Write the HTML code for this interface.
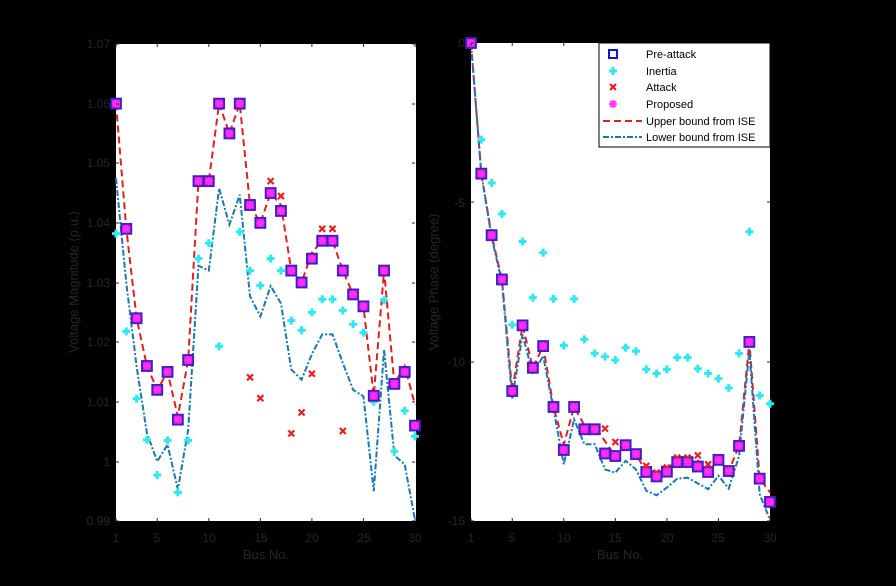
<!DOCTYPE html>
<html><head><meta charset="utf-8"><style>
html,body{margin:0;padding:0;background:#000;}
svg{display:block;font-family:"Liberation Sans",sans-serif;}
</style></head><body>
<svg id="s" width="896" height="586" viewBox="0 0 896 586" xmlns="http://www.w3.org/2000/svg">
<rect width="896" height="586" fill="#000"/>
<rect x="116" y="44" width="300" height="477" fill="#fff"/>
<rect x="471" y="43" width="299" height="478" fill="#fff"/>
<g id="g"></g>
<g fill="#262626" font-size="12">
<text x="110" y="48" text-anchor="end">1.07</text>
<text x="110" y="108" text-anchor="end">1.06</text>
<text x="110" y="167" text-anchor="end">1.05</text>
<text x="110" y="227" text-anchor="end">1.04</text>
<text x="110" y="287" text-anchor="end">1.03</text>
<text x="110" y="346" text-anchor="end">1.02</text>
<text x="110" y="406" text-anchor="end">1.01</text>
<text x="110" y="466" text-anchor="end">1</text>
<text x="110" y="525" text-anchor="end">0.99</text>
<text x="116" y="542" text-anchor="middle">1</text>
<text x="157" y="542" text-anchor="middle">5</text>
<text x="209" y="542" text-anchor="middle">10</text>
<text x="261" y="542" text-anchor="middle">15</text>
<text x="312" y="542" text-anchor="middle">20</text>
<text x="364" y="542" text-anchor="middle">25</text>
<text x="415" y="542" text-anchor="middle">30</text>
<text x="266" y="559" text-anchor="middle" font-size="13">Bus No.</text>
<text transform="translate(78,282) rotate(-90)" text-anchor="middle" font-size="13">Voltage  Magnitude (p.u.)</text>
<text x="465" y="47" text-anchor="end">0</text>
<text x="465" y="207" text-anchor="end">-5</text>
<text x="465" y="366" text-anchor="end">-10</text>
<text x="465" y="525" text-anchor="end">-15</text>
<text x="471" y="542" text-anchor="middle">1</text>
<text x="512" y="542" text-anchor="middle">5</text>
<text x="564" y="542" text-anchor="middle">10</text>
<text x="615" y="542" text-anchor="middle">15</text>
<text x="667" y="542" text-anchor="middle">20</text>
<text x="718" y="542" text-anchor="middle">25</text>
<text x="770" y="542" text-anchor="middle">30</text>
<text x="620" y="559" text-anchor="middle" font-size="13">Bus No.</text>
<text transform="translate(438,282) rotate(-90)" text-anchor="middle" font-size="13">Voltage  Phase  (degree)</text>
</g>
<rect x="599" y="43" width="171" height="104" fill="#fff" stroke="#000" stroke-width="1"/>
<g font-size="11" fill="#000">
<text x="646" y="58">Pre-attack</text>
<text x="646" y="75">Inertia</text>
<text x="646" y="91">Attack</text>
<text x="646" y="108">Proposed</text>
<text x="646" y="125">Upper bound from ISE</text>
<text x="646" y="141">Lower bound from ISE</text>
</g>
<g id="leg"></g>
</svg>
<script>
var NS="http://www.w3.org/2000/svg",g=document.getElementById('g'),L=document.getElementById('leg');
function el(p,t,a){var e=document.createElementNS(NS,t);for(var k in a)e.setAttribute(k,a[k]);p.appendChild(e);return e;}
function sq(p,x,y){el(p,'rect',{x:x-5,y:y-5,width:10,height:10,fill:'#d818e8',stroke:'#3a20c0','stroke-width':1.8});}
function pl(p,x,y){el(p,'path',{d:'M'+(x-4)+' '+y+'H'+(x+4)+'M'+x+' '+(y-4)+'V'+(y+4),stroke:'#30e8f0','stroke-width':3});}
function cr(p,x,y){el(p,'path',{d:'M'+(x-3)+' '+(y-3)+'L'+(x+3)+' '+(y+3)+'M'+(x+3)+' '+(y-3)+'L'+(x-3)+' '+(y+3),stroke:'#e82020','stroke-width':2.2});}
function ast(p,x,y){el(p,'path',{d:'M'+(x-4)+' '+y+'H'+(x+4)+'M'+x+' '+(y-4)+'V'+(y+4)+'M'+(x-3)+' '+(y-3)+'L'+(x+3)+' '+(y+3)+'M'+(x+3)+' '+(y-3)+'L'+(x-3)+' '+(y+3),stroke:'#ff30ff','stroke-width':1.8});}
function line(p,pts,col,da){el(p,'polyline',{points:pts.map(function(q){return q[0]+','+q[1]}).join(' '),fill:'none',stroke:col,'stroke-width':2,'stroke-dasharray':da});}
function plot(X0,X1,Y,pre,ine,att,up,lo){
 var X=function(i){return X0+(X1-X0)*i/29;};
 line(g,up.map(function(v,i){return[X(i),Y(v)]}),'#e02020','7,4');
 line(g,lo.map(function(v,i){return[X(i),Y(v)]}),'#1a78b0','6,2,2,2');
 ine.forEach(function(v,i){if(v!=null)pl(g,X(i),Y(v));});
 pre.forEach(function(v,i){sq(g,X(i),Y(v));});
 att.forEach(function(v,i){cr(g,X(i),Y(v));});
 pre.forEach(function(v,i){ast(g,X(i),Y(v));});
}
var preL=[1.06,1.039,1.024,1.016,1.012,1.015,1.007,1.017,1.047,1.047,1.06,1.055,1.06,1.043,1.040,1.045,1.042,1.032,1.030,1.034,1.037,1.037,1.032,1.028,1.026,1.011,1.032,1.013,1.015,1.006];
var ineL=[1.0382,1.0218,1.0105,1.0036,0.9977,1.0035,0.9948,1.0035,1.034,1.0366,1.0193,null,1.0385,1.032,1.0295,1.034,1.032,1.0236,1.022,1.025,1.0272,1.0272,1.0253,1.023,1.0216,1.010,1.027,1.0017,1.0085,1.0042];
var attL=preL.slice();attL[13]=1.0141;attL[14]=1.0106;attL[15]=1.047;attL[16]=1.0445;attL[17]=1.0047;attL[18]=1.0082;attL[19]=1.0147;attL[20]=1.039;attL[21]=1.039;attL[22]=1.0051;
var upL=preL.slice();upL[6]=1.0075;upL[16]=1.043;upL[19]=1.035;upL[28]=1.016;upL[29]=1.0095;
var loL=[1.0475,1.0299,1.0159,1.0047,1.0,1.0028,0.9953,1.0053,1.0328,1.032,1.0458,1.0397,1.0447,1.0277,1.0243,1.0294,1.0265,1.0154,1.0137,1.018,1.0213,1.0213,1.0165,1.012,1.0109,0.995,1.0187,1.001,0.9995,0.9902];
plot(116,415,function(v){return 44+(1.07-v)*5962.5;},preL,ineL,attL,upL,loL);
var preR=[0,-4.1,-6.03,-7.42,-10.92,-8.86,-10.19,-9.51,-11.42,-12.77,-11.42,-12.12,-12.12,-12.88,-12.96,-12.62,-12.9,-13.46,-13.6,-13.45,-13.15,-13.15,-13.29,-13.46,-13.08,-13.43,-12.64,-9.38,-13.67,-14.4];
var ineR=[0,-3.03,-4.39,-5.36,-8.84,-6.23,-7.99,-6.58,-8.03,-9.49,-8.03,-9.3,-9.74,-9.84,-9.95,-9.56,-9.67,-10.24,-10.37,-10.24,-9.87,-9.87,-10.22,-10.37,-10.53,-10.82,-9.74,-5.92,-11.06,-11.32];
var attR=preR.slice();attR[13]=-12.1;attR[14]=-12.52;attR[17]=-13.27;attR[18]=-13.48;attR[19]=-13.32;attR[20]=-13.01;attR[21]=-13.01;attR[22]=-12.94;attR[23]=-13.22;
var upR=preR.slice();upR[9]=-12.6;upR[11]=-12.0;upR[12]=-12.0;upR[13]=-12.5;upR[20]=-13.0;upR[21]=-13.0;upR[22]=-13.1;upR[29]=-14.1;
var loR=[0,-4.1,-6.1,-7.5,-11.18,-9.14,-10.4,-9.82,-11.49,-13.22,-11.81,-12.59,-12.59,-13.38,-13.48,-13.11,-13.38,-14.05,-14.19,-13.95,-13.67,-13.64,-13.82,-14.0,-13.58,-13.98,-12.96,-9.66,-14.16,-14.96];
plot(471,770,function(v){return 43-v*31.87;},preR,ineR,attR,upR,loR);
[[116,415,44,521,[44,104,163,223,283,342,402,462,521]],[471,770,43,521,[43,202,362,521]]].forEach(function(a){
 var xs=[0,4,9,14,19,24,29].map(function(i){return a[0]+(a[1]-a[0])*i/29;});
 xs.forEach(function(x){el(g,'path',{d:'M'+x+' '+a[3]+'v-3M'+x+' '+a[2]+'v3',stroke:'#262626','stroke-width':1});});
 a[4].forEach(function(y){el(g,'path',{d:'M'+a[0]+' '+y+'h3M'+a[1]+' '+y+'h-3',stroke:'#262626','stroke-width':1});});
});
el(L,'rect',{x:609,y:50,width:8,height:8,fill:'#fff',stroke:'#1010e0','stroke-width':2});
pl(L,613,71);cr(L,613,87);ast(L,613,104);
line(L,[[603,121],[642,121]],'#e02020','7,4');
line(L,[[603,137],[642,137]],'#1a78b0','6,2,2,2');
</script>
</body></html>
